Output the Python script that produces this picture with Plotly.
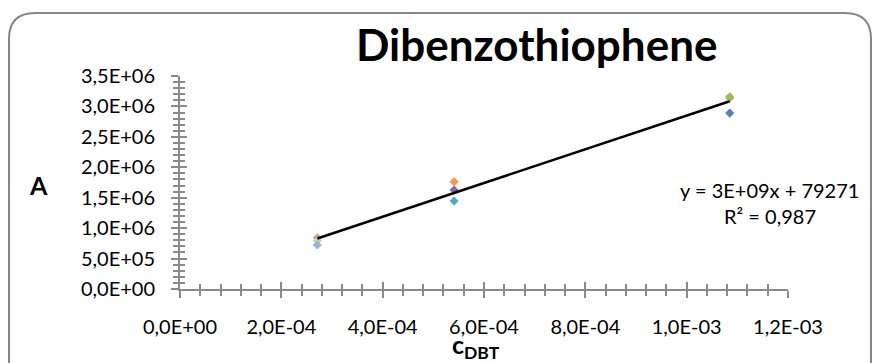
import plotly.graph_objects as go

# Calibration data for dibenzothiophene: concentration vs. peak area A
c_dbt = [2.71e-4, 2.71e-4, 2.71e-4,
         5.41e-4, 5.41e-4, 5.41e-4,
         1.085e-3, 1.085e-3, 1.085e-3]
peak_area = [8.43e5, 7.94e5, 7.23e5,
             1.763e6, 1.627e6, 1.446e6,
             3.16e6, 2.89e6, 3.14e6]
point_colors = ["#D99694", "#C3D69B", "#95B3D7",
                "#F79646", "#8064A2", "#4BACC6",
                "#AFB24C", "#4F81BD", "#9BBB59"]

# Linear trendline parameters
TREND_SLOPE = 2.77e9
TREND_INTERCEPT = 79271
R_SQUARED = 0.987

x_ticks = [0, 2e-4, 4e-4, 6e-4, 8e-4, 1.0e-3, 1.2e-3]
y_ticks = [0, 5e5, 1e6, 1.5e6, 2e6, 2.5e6, 3e6, 3.5e6]


def sci_label(v):
    return f"{v:.1E}".replace(".", ",")


x_labels = [sci_label(v) for v in x_ticks]
y_labels = [sci_label(v) for v in y_ticks]

FONT = "Lato"
AXIS_GREY = "#8A8A8A"

fig = go.Figure()

for xv, yv, col in zip(c_dbt, peak_area, point_colors):
    fig.add_trace(go.Scatter(
        x=[xv], y=[yv], mode="markers",
        marker=dict(symbol="diamond", size=7, color=col),
        showlegend=False, hoverinfo="x+y"))

x_lo, x_hi = min(c_dbt), max(c_dbt)
fig.add_trace(go.Scatter(
    x=[x_lo, x_hi],
    y=[TREND_SLOPE * x_lo + TREND_INTERCEPT, TREND_SLOPE * x_hi + TREND_INTERCEPT],
    mode="lines", line=dict(color="black", width=2.5),
    showlegend=False, hoverinfo="skip"))

common_axis = dict(showgrid=False, zeroline=False, showline=True,
                   linecolor=AXIS_GREY, linewidth=2,
                   tickcolor=AXIS_GREY, tickwidth=2)

fig.update_layout(
    width=879, height=363,
    margin=dict(l=180, r=91, t=76, b=74),
    paper_bgcolor="white", plot_bgcolor="white",
    font=dict(family=FONT, size=20, color="black"),
    xaxis=dict(range=[0, 1.2e-3], tickvals=x_ticks, ticktext=x_labels,
               ticks="outside", ticklen=7, ticklabelstandoff=12,
               minor=dict(ticks="outside", dtick=4e-5, ticklen=5,
                          tickcolor=AXIS_GREY, tickwidth=2),
               **common_axis),
    yaxis=dict(range=[0, 3.5e6], tickvals=y_ticks, ticktext=y_labels,
               ticks="outside", ticklen=7, ticklabelstandoff=12,
               minor=dict(ticks="outside", dtick=1e5, ticklen=5,
                          tickcolor=AXIS_GREY, tickwidth=2),
               **common_axis),
    # mirrored axes carry the inner half of the crossing tick marks
    xaxis2=dict(overlaying="x", matches="x", side="bottom", anchor="y",
                tickvals=x_ticks, showticklabels=False,
                ticks="inside", ticklen=7,
                minor=dict(ticks="inside", dtick=4e-5, ticklen=5,
                           tickcolor=AXIS_GREY, tickwidth=2),
                **common_axis),
    yaxis2=dict(overlaying="y", matches="y", side="left", anchor="x",
                tickvals=y_ticks, showticklabels=False,
                ticks="inside", ticklen=7,
                minor=dict(ticks="inside", dtick=1e5, ticklen=5,
                           tickcolor=AXIS_GREY, tickwidth=2),
                **common_axis),
)

# dummy trace so the overlay axes are drawn
fig.add_trace(go.Scatter(x=[x_lo], y=[peak_area[0]], xaxis="x2", yaxis="y2",
                         mode="markers", marker=dict(opacity=0),
                         showlegend=False, hoverinfo="skip"))

# rounded chart-area frame (open at the bottom edge of the page),
# in pixels relative to the plot origin
L, R, T, B, RAD = -171, 691, 276, -90, 26
frame_path = (f"M {L},{B} L {L},{T - RAD} Q {L},{T} {L + RAD},{T} "
              f"L {R - RAD},{T} Q {R},{T} {R},{T - RAD} L {R},{B}")
fig.add_shape(type="path", path=frame_path,
              xref="paper", yref="paper", xsizemode="pixel", ysizemode="pixel",
              xanchor=0, yanchor=0, line=dict(color="#868686", width=2),
              layer="below")

eq_text = f"y = {TREND_SLOPE:.0E}x + {TREND_INTERCEPT}"
r2_text = "R² = " + f"{R_SQUARED:.3f}".replace(".", ",")

fig.add_annotation(text="<b>Dibenzothiophene</b>", xref="paper", yref="paper",
                   x=0.587, y=1.15, showarrow=False, font=dict(size=44),
                   xanchor="center", yanchor="middle")
fig.add_annotation(text="<b>A</b>", xref="paper", yref="paper",
                   x=-0.232, y=0.49, showarrow=False, font=dict(size=25),
                   xanchor="center", yanchor="middle")
fig.add_annotation(text="<b>c<sub>DBT</sub></b>", xref="paper", yref="paper",
                   x=0.487, y=-0.268, showarrow=False, font=dict(size=25),
                   xanchor="center", yanchor="middle")
fig.add_annotation(text=eq_text, xref="paper", yref="paper",
                   x=0.970, y=0.465, showarrow=False, font=dict(size=20),
                   xanchor="center", yanchor="middle")
fig.add_annotation(text=r2_text, xref="paper", yref="paper",
                   x=0.970, y=0.345, showarrow=False, font=dict(size=20),
                   xanchor="center", yanchor="middle")

fig.write_html("out.html")
